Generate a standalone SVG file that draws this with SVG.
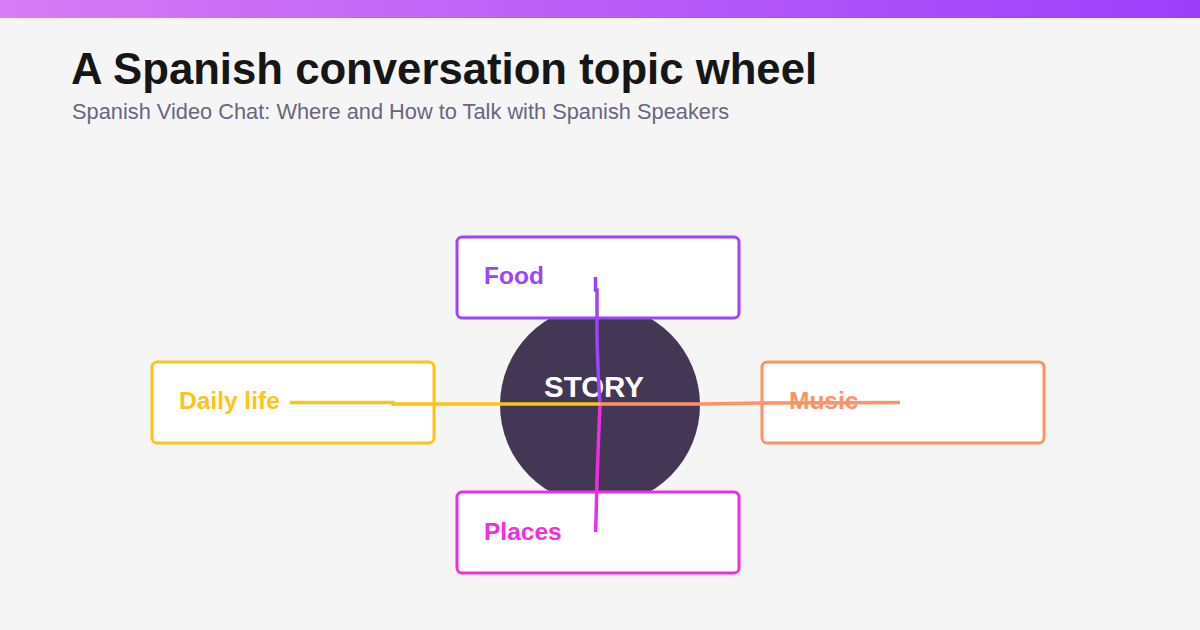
<svg xmlns="http://www.w3.org/2000/svg" width="1200" height="630" viewBox="0 0 1200 630">
  <defs>
    <linearGradient id="bar" x1="0" y1="0" x2="1" y2="0">
      <stop offset="0" stop-color="#d77cf4"/>
      <stop offset="1" stop-color="#9b3ffb"/>
    </linearGradient>
    <style>
      .box { fill: #ffffff; stroke-width: 3; }
      .lbl { font-family: "Liberation Sans", Arial, sans-serif; font-weight: bold; font-size: 24.5px; }
      .conn { fill: none; stroke-width: 3.5; stroke-linecap: butt; stroke-linejoin: miter; }
      .title { font-family: "Liberation Sans", Arial, sans-serif; font-weight: bold; font-size: 43.7px; fill: #161616; }
      .sub { font-family: "Liberation Sans", Arial, sans-serif; font-size: 21.8px; fill: #6a6580; }
    </style>
  </defs>
  <rect width="1200" height="630" fill="#f5f5f5"/>
  <rect width="1200" height="18" fill="url(#bar)"/>
  <text class="title" x="71" y="84">A Spanish conversation topic wheel</text>
  <text class="sub" x="72" y="119">Spanish Video Chat: Where and How to Talk with Spanish Speakers</text>

  <g id="center">
    <circle cx="600" cy="405" r="100" fill="#433755"/>
    <text x="594" y="397" text-anchor="middle" font-family="Liberation Sans, Arial, sans-serif" font-weight="bold" font-size="29.5" fill="#ffffff">STORY</text>
  </g>
  <g id="food">
    <rect class="box" x="457" y="237" width="282" height="81" rx="5" stroke="#9b45fa"/>
    <text class="lbl" x="484" y="284" fill="#9b45fa">Food</text>
  </g>
  <g id="daily-life">
    <rect class="box" x="152" y="362" width="282" height="81" rx="5" stroke="#fcc419"/>
    <text class="lbl" x="179" y="409" fill="#fcc419">Daily life</text>
  </g>
  <g id="music">
    <rect class="box" x="762" y="362" width="282" height="81" rx="5" stroke="#ff9166"/>
    <text class="lbl" x="789" y="409" fill="#ff9166">Music</text>
  </g>
  <g id="places">
    <rect class="box" x="457" y="492" width="282" height="81" rx="5" stroke="#ee2ee0"/>
    <text class="lbl" x="484" y="540" fill="#ee2ee0">Places</text>
  </g>

  <g id="connectors">
    <polyline class="conn" stroke="#9b45fa" points="595.5,277 595.5,290 597,290 597,340 598.5,380 600,405"/>
    <polyline class="conn" stroke="#ee2ee0" points="600,405 598.5,440 597,480 596,520 595.5,532"/>
    <polyline class="conn" stroke="#fcc419" points="290,402.5 393,402.5 393,404 500,404 600,404"/>
    <polyline class="conn" stroke="#ff9166" points="600,404 700,404 760,403 900,402.5"/>
  </g>
</svg>
